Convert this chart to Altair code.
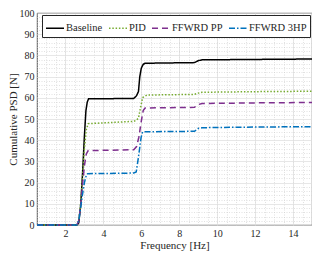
import altair as alt
import pandas as pd

series = ["Baseline", "PID", "FFWRD PP", "FFWRD 3HP"]
colors = ["#000000", "#77AC30", "#7E2F8E", "#0072BD"]
dashes = [[1, 0], [1.5, 1.8], [6, 4], [6, 2, 1.5, 2]]

base_f = [0.5, 2.6, 2.7, 2.8, 2.9, 3.0, 3.08, 3.15, 3.22, 5.6, 5.75, 5.85, 5.92, 6.0, 6.1, 6.2, 8.8, 9.0, 9.2, 12, 15]
base_v = [0, 0, 1, 9, 24, 42, 54, 58, 59.5, 59.7, 61, 63, 70, 74, 75.8, 76.3, 76.6, 77.5, 77.9, 78.1, 78.3]

pid_f = [0.5, 2.6, 2.7, 2.8, 2.9, 3.0, 3.1, 3.2, 5.6, 5.75, 5.85, 5.95, 6.07, 6.3, 8.8, 9.0, 9.2, 12, 15]
pid_v = [0, 0, 2, 10, 22, 36, 45, 47.8, 48.9, 49.5, 50.5, 55, 60.1, 61.3, 61.6, 62.2, 62.6, 62.9, 63.1]

pp_f = [0.5, 2.6, 2.7, 2.8, 2.9, 3.0, 3.1, 3.2, 5.6, 5.75, 5.87, 6.0, 6.1, 6.2, 8.8, 9.0, 9.2, 12, 15]
pp_v = [0, 0, 2, 9, 19, 28, 33.5, 35.1, 35.5, 37, 41.4, 49, 54, 55.2, 55.5, 56.8, 57.3, 57.6, 57.8]

hp_f = [0.5, 2.6, 2.7, 2.8, 2.9, 3.0, 3.1, 3.17, 5.6, 5.73, 5.85, 5.99, 6.07, 6.2, 8.8, 9.0, 9.2, 12, 15]
hp_v = [0, 0, 2, 8, 14.5, 20, 23.5, 24.2, 24.5, 25, 32, 41.4, 43.9, 44, 44.2, 45.5, 45.9, 46.2, 46.4]

x_ticks = [2, 4, 6, 8, 10, 12, 14]
x_minor = [0.5, 1, 1.5, 2, 2.5, 3, 3.5, 4, 4.5, 5, 5.5, 6, 6.5, 7, 7.5, 8, 8.5, 9, 9.5,
           10, 10.5, 11, 11.5, 12, 12.5, 13, 13.5, 14, 14.5, 15]
y_ticks = [0, 10, 20, 30, 40, 50, 60, 70, 80, 90, 100]
y_minor = [2, 4, 6, 8, 12, 14, 16, 18, 22, 24, 26, 28, 32, 34, 36, 38, 42, 44, 46, 48,
           52, 54, 56, 58, 62, 64, 66, 68, 72, 74, 76, 78, 82, 84, 86, 88, 92, 94, 96, 98]

rows = []
for name, fs, vs in [("Baseline", base_f, base_v), ("PID", pid_f, pid_v),
                     ("FFWRD PP", pp_f, pp_v), ("FFWRD 3HP", hp_f, hp_v)]:
    for i, (f, v) in enumerate(zip(fs, vs)):
        rows.append({"series": name, "f": f, "psd": v, "order": i})
df = pd.DataFrame(rows)

FONT = "Liberation Serif, Times New Roman, DejaVu Serif, serif"
xscale = alt.Scale(domain=[0.5, 15], nice=False, zero=False)
yscale = alt.Scale(domain=[0, 100], nice=False)

minor = alt.Chart(df).mark_point(opacity=0).encode(
    x=alt.X("f:Q", scale=xscale, axis=alt.Axis(
        orient="top", values=x_minor, grid=True, gridDash=[1, 1.5], gridColor="#cfcfcf",
        gridWidth=0.6, labels=False, ticks=False, domain=False, title=None)),
    y=alt.Y("psd:Q", scale=yscale, axis=alt.Axis(
        orient="right", values=y_minor, grid=True, gridDash=[1, 1.5], gridColor="#cfcfcf",
        gridWidth=0.6, labels=False, ticks=False, domain=False, title=None)),
)

lines = alt.Chart(df).mark_line(strokeWidth=1.5).encode(
    x=alt.X("f:Q", scale=xscale, axis=alt.Axis(
        orient="bottom", values=x_ticks, grid=True, gridColor="#dcdcdc", gridWidth=0.7,
        ticks=False, domain=False, title="Frequency [Hz]", labelFont=FONT, labelFontSize=10,
        labelColor="#262626", labelPadding=3, titleFont=FONT, titleFontSize=11,
        titleFontWeight="normal", titleColor="#262626", titlePadding=1)),
    y=alt.Y("psd:Q", scale=yscale, axis=alt.Axis(
        orient="left", values=y_ticks, grid=True, gridColor="#dcdcdc", gridWidth=0.7,
        ticks=False, domain=False, title="Cumulative PSD [N]", labelFont=FONT, labelFontSize=10,
        labelColor="#262626", labelPadding=3, titleFont=FONT, titleFontSize=11,
        titleFontWeight="normal", titleColor="#262626", titlePadding=1)),
    color=alt.Color("series:N", scale=alt.Scale(domain=series, range=colors), title=None,
                    legend=alt.Legend(orient="none", legendX=5, legendY=2, direction="horizontal",
                                      symbolType="stroke", symbolSize=324, symbolStrokeWidth=1.5,
                                      labelFont=FONT, labelFontSize=10.5, labelColor="#262626",
                                      strokeColor="#262626", fillColor="white", padding=3,
                                      columnPadding=3, labelOffset=1)),
    strokeDash=alt.StrokeDash("series:N", scale=alt.Scale(domain=series, range=dashes), legend=None),
    order="order:Q",
)

chart = alt.layer(minor, lines).resolve_axis(x="independent", y="independent").properties(
    width=275, height=212,
    autosize=alt.AutoSizeParams(type="none"),
    padding={"left": 29, "top": 5, "right": 0, "bottom": 27},
).configure_view(stroke="#262626", strokeWidth=0.8)

chart.save("out.html", embed_options={"renderer": "svg", "actions": False})
